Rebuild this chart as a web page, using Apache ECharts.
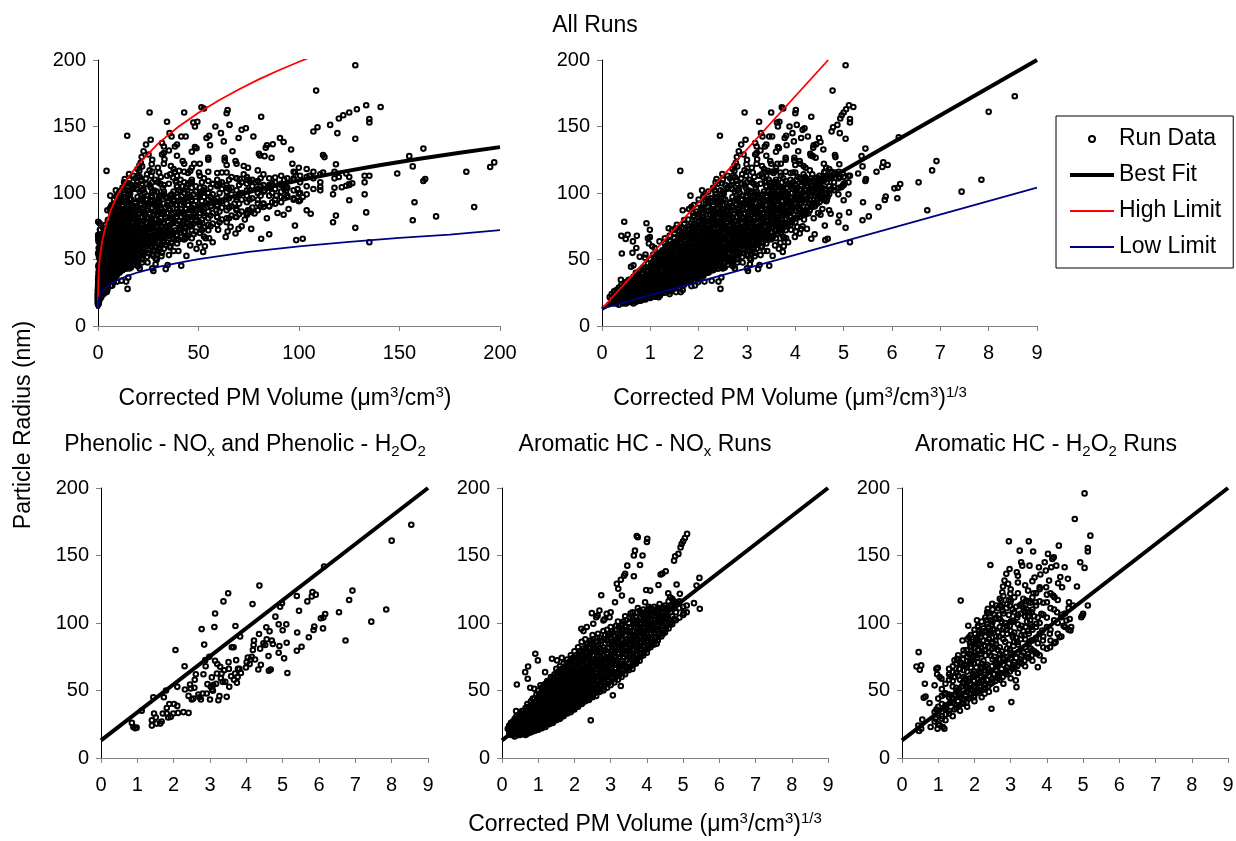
<!DOCTYPE html>
<html><head><meta charset="utf-8">
<script src="https://cdn.jsdelivr.net/npm/echarts@6/dist/echarts.min.js"></script>
<style>html,body{margin:0;padding:0;background:#fff}#c{width:1236px;height:841px}</style>
</head><body><div id="c"></div>
<script>
// ---------- DATA (x = cube root of corrected PM volume, y = particle radius nm) ----------
const phenolicRuns = [[0.85,26],[0.89,23],[0.94,22],[0.98,22.5],[1.12,35],[1.40,24],[1.40,28],[1.46,33],[1.51,30],[1.53,25.5],[1.63,25.5],[1.67,27],[1.70,33],[1.44,45],[1.73,45],[1.79,50],[1.81,37],[1.81,33],[1.85,30],[1.88,40],[1.92,30.5],[1.99,33],[2.01,40],[2.05,80],[2.10,38.6],[2.10,52.7],[2.12,33.4],[2.27,34],[2.30,68],[2.31,50.7],[2.41,33.4],[2.41,46],[2.45,54.5],[2.47,51.5],[2.50,43.3],[2.54,44],[2.57,52],[2.58,58],[2.61,62],[2.68,47],[2.71,45],[2.75,43.3],[2.77,95.5],[2.80,47.8],[2.82,62],[2.84,84],[2.87,72.5],[2.88,68],[2.91,47.8],[2.93,54.7],[2.98,75],[3.00,43.3],[3.02,52.7],[3.05,59.7],[3.06,50.7],[3.08,49.8],[3.09,54],[3.12,97],[3.14,107],[3.14,72],[3.17,55],[3.19,62.6],[3.20,69.6],[3.23,42.8],[3.26,45.8],[3.28,67.6],[3.30,59],[3.32,62.6],[3.35,56.4],[3.37,116],[3.39,65],[3.42,56.4],[3.46,45.3],[3.50,122],[3.51,71],[3.52,66],[3.53,52.7],[3.58,60.6],[3.60,82],[3.65,82],[3.66,58],[3.69,62.6],[3.70,97.8],[3.72,72.5],[3.74,55.7],[3.76,60],[3.77,66],[3.81,66],[3.83,90],[3.85,63],[3.99,67],[4.01,71],[4.04,74.5],[4.09,69.6],[4.12,73],[4.15,75],[4.17,114],[4.18,80],[4.20,83.7],[4.21,87],[4.24,73],[4.33,65.6],[4.35,91.8],[4.36,127.7],[4.38,81],[4.40,69],[4.47,85],[4.52,83.7],[4.55,96.8],[4.56,88],[4.61,75.5],[4.62,64.6],[4.64,93.8],[4.67,65.6],[4.70,87],[4.73,84.4],[4.80,104.7],[4.89,99],[4.89,78],[4.91,83],[4.93,112],[4.98,114.6],[5.00,94.6],[5.04,73.8],[5.10,99],[5.11,85.4],[5.13,63],[5.39,79.5],[5.39,120],[5.40,93],[5.45,109],[5.52,82.4],[5.68,116],[5.72,89.4],[5.80,119.6],[5.82,123],[5.85,94.8],[5.87,97.3],[5.91,121],[6.05,103.5],[6.11,96],[6.12,104],[6.17,106.7],[6.14,141.8],[6.55,108],[6.73,87],[6.83,117],[6.92,124],[7.44,101],[7.85,110],[8.00,161],[8.54,172.8]];

const aromNOxScattered = [[0.16,21.7],[0.37,26.6],[0.39,34.8],[0.41,54.5],[0.55,34.8],[0.64,63.6],[0.72,67.8],[0.71,58.7],[0.78,52],[0.89,51.3],[0.92,77.2],[0.99,72.3],[1.06,53.8],[1.19,63.6],[1.38,73.5],[1.52,72.3],[1.65,74.2],[1.79,69.8],[1.97,64.9],[2.19,95.7],[2.25,94],[2.34,97],[2.48,107.3],[2.52,99.4],[2.60,104.3],[2.64,105.5],[2.69,109.2],[2.74,120.6],[2.80,101.8],[2.83,102.8],[2.89,106.8],[2.97,104.3],[3.00,108],[3.06,46.4],[3.12,115.4],[3.17,129],[3.21,125.3],[3.28,132],[3.31,120.3],[3.37,135],[3.40,136.4],[3.46,142.5],[3.58,116.6],[3.64,134.6],[3.64,150],[3.67,153.6],[3.72,164.5],[3.75,163.5],[3.81,143],[3.88,150],[3.95,115.4],[4.00,160],[4.01,162.3],[3.98,124.5],[4.09,124],[4.13,110.5],[4.32,128.2],[4.38,135.9],[4.43,136.6],[4.52,138.3],[4.59,122],[4.64,119],[4.75,146.2],[4.78,149.4],[4.82,128.5],[4.87,151.2],[4.93,156],[4.96,158.5],[5.00,160.5],[5.05,163],[5.11,166],[5.02,107.3],[5.30,114.7],[5.37,127.7],[5.45,133.4],[5.46,110.5],[4.82,115.4],[4.91,121.6],[4.45,111.7],[4.36,101.8],[4.27,84.6],[4.45,92],[4.64,99.4],[4.54,104.3],[2.45,27.9],[3.28,53.3],[2.80,50.6],[2.62,50.6]];

// dense core of the Aromatic HC - NOx runs: [x, [radii read along that x]]
const aromNOxCore = [
[0.20,[18,21,24]],[0.25,[17,20,23,26]],[0.30,[17,20,23,27]],[0.35,[16,19,22,25,29]],[0.40,[18,21,24,28,31]],[0.45,[17,19,22,26,30]],
[0.50,[17,20,23,26,30,33]],[0.55,[18,22,25,28,32]],[0.60,[18,21,24,27,31,35]],[0.65,[17,20,23,26,29,33,37]],[0.70,[18,21,24,28,32,36,40]],
[0.75,[19,23,26,30,34,38]],[0.80,[19,22,25,29,33,37,42]],[0.85,[20,24,27,31,35,40,44]],[0.90,[20,23,26,30,34,38,44]],[0.95,[21,25,29,33,37,42,47]],
[1.00,[21,24,28,32,36,40,45,50]],[1.05,[22,26,30,34,38,43,48]],[1.10,[22,25,29,33,37,42,47,52]],[1.15,[24,27,31,35,40,45,50,54]],
[1.20,[23,27,31,35,39,44,49,55]],[1.25,[25,29,33,37,42,47,52,57]],[1.30,[25,29,33,37,41,46,51,57]],[1.35,[27,31,35,39,44,49,54,60]],
[1.40,[26,30,34,38,43,48,53,59]],[1.45,[28,32,36,41,46,51,56,62]],[1.50,[28,32,36,40,45,50,55,61,66]],[1.55,[30,34,38,43,48,53,58,64]],
[1.60,[29,33,37,42,47,52,57,63,68]],[1.65,[31,35,40,45,50,55,60,66]],[1.70,[31,35,39,44,49,54,59,65,70]],[1.75,[33,37,42,47,52,57,62,68]],
[1.80,[33,37,41,46,51,56,61,67,73]],[1.85,[35,39,44,49,54,59,65,71]],[1.90,[34,38,43,48,53,58,63,69,76]],[1.95,[36,41,46,51,56,61,67,74]],
[2.00,[36,40,45,50,55,60,65,71,79]],[2.05,[38,43,48,53,58,63,69,76]],[2.10,[38,42,47,52,57,62,67,73,82]],[2.15,[40,45,50,55,60,66,72,79]],
[2.20,[40,44,49,54,59,64,69,76,86]],[2.25,[42,47,52,57,62,68,74,81]],[2.30,[42,46,51,56,61,66,71,78,88]],[2.35,[44,49,54,59,64,70,76,84]],
[2.40,[43,48,53,58,63,68,74,81]],[2.45,[46,51,56,61,66,72,79,87]],[2.50,[45,50,55,60,65,70,76,84,91]],
[2.55,[48,55,59,68,73,82]],[2.60,[46,52,60,63,71,78,86]],[2.65,[51,57,61,69,76,84,92]],[2.70,[49,54,62,67,71,81,89]],[2.75,[53,58,65,70,79,87]],
[2.80,[50,56,64,68,76,82,94]],[2.85,[55,61,66,73,80,91]],[2.90,[52,60,64,72,77,87,95]],[2.95,[57,63,68,75,85,92]],[3.00,[54,62,66,74,79,89,97]],
[3.05,[59,64,71,80,86,94]],[3.10,[56,63,70,75,84,90]],[3.15,[61,66,75,81,88,98]],[3.20,[58,64,72,77,86,92,101]],[3.25,[63,70,75,85,91]],
[3.30,[60,68,72,81,87,96]],[3.35,[65,70,79,85,95,101]],[3.40,[62,68,77,82,91,97,105]],[3.45,[67,73,82,88,95]],[3.50,[65,70,79,84,93,100]],
[3.55,[68,77,82,91,97,107]],[3.60,[66,75,80,89,94,104,108]],[3.65,[71,80,85,94,101]],[3.70,[70,76,85,90,99,104]],[3.75,[74,83,88,97,102,111]],
[3.80,[72,81,86,95,100,109]],[3.85,[77,85,93,99,107]],[3.90,[76,82,91,96,105,110]],[3.95,[80,89,94,103,108]],[4.00,[78,87,92,101,106]],
[4.05,[83,90,99,104,112]],[4.10,[82,88,97,102,111]],[4.15,[86,95,100,108]],[4.20,[84,93,98,107,112]],[4.25,[89,96,105,110]],
[4.30,[87,95,103,109]],[4.35,[92,101,106,114]],[4.40,[90,98,104,111]],[4.45,[95,103,108]],[4.50,[93,101,106,113]],[4.55,[98,104,111]],
[4.60,[96,102,110,116]],[4.65,[100,108,113]],[4.70,[99,105,112,118]],[4.75,[103,111,116]],[4.80,[102,108,114]],[4.90,[104,111,116]],
[5.00,[106,112]],[5.10,[108,113]],
[0.325,[18,21,24,27]],[0.425,[19,23,26,29]],[0.525,[19,22,25,28,31]],[0.625,[19,22,26,29,33]],[0.725,[20,23,26,30,34,38]],
[0.825,[21,24,27,31,35,39]],[0.925,[22,25,28,32,36,41]],[1.025,[23,26,30,34,38,43,47]],[1.125,[24,27,31,35,39,44,49]],
[1.225,[25,29,33,37,41,46,51,53]],[1.325,[27,31,35,39,43,48,53,56]],[1.425,[28,32,36,40,45,50,55,58]],[1.525,[30,34,38,42,47,52,57,63]],
[1.625,[31,35,39,44,49,54,59,65]],[1.725,[33,37,41,46,51,56,61,67]],[1.825,[35,39,43,48,53,58,63,69]],[1.925,[36,40,45,50,55,60,66,72]],
[2.025,[38,42,47,52,57,62,68,74]],[2.125,[40,44,49,54,59,64,70,77]],[2.225,[41,46,51,56,61,66,72,79]],[2.325,[43,48,53,58,63,68,74,82]],
[2.425,[45,50,55,60,65,70,77,85]],[2.525,[47,52,57,62,67,73,80,88]],[2.625,[49,55,60,66,73,80,89]],[2.725,[51,57,63,69,75,84]],
[2.825,[53,59,66,72,79,88]],[2.925,[55,61,67,73,81,90]],[3.025,[57,63,70,77,84,92]],[3.125,[59,66,72,79,86,95]],[3.225,[61,68,74,82,89,97]],
[3.325,[63,69,77,84,92,99]],[3.425,[65,72,79,86,94,102]],[3.525,[67,74,81,88,96,104]],[3.625,[69,77,84,91,99]],[3.725,[72,80,87,94,101,108]],
[3.825,[75,83,90,97,104]],[3.925,[78,86,93,100,107]],[4.025,[81,89,96,103,110]],[4.125,[84,92,99,106]],[4.225,[87,95,102,109]],
[4.325,[90,98,105,111]],[4.425,[93,100,107]],[4.525,[96,103,110]]];

const aromH2O2Scattered = [[0.46,78.4],[0.40,67.8],[0.49,65.4],[0.53,68.6],[0.63,55],[0.60,44.6],[0.65,45.6],[0.76,40.7],[0.47,20],[0.53,21.7],[0.56,28.4],[0.45,24],[0.79,23],[0.90,53.8],[0.95,66],[0.99,66.8],[0.97,62],[1.04,60],[1.09,58.7],[0.98,21.7],[0.95,35.8],[0.93,29],[1.04,24.2],[1.13,23],[1.17,21.7],[1.21,32.3],[1.22,37.2],[1.17,47],[1.32,40.7],[1.36,46.4],[1.30,66],[1.34,60.4],[1.41,63.6],[1.45,72.3],[1.52,73.5],[1.55,76],[1.62,116.6],[1.67,87],[1.70,79.7],[1.73,68.6],[1.76,58],[1.79,52.5],[1.83,98],[1.85,89.5],[1.89,82],[1.91,77.2],[1.94,72.3],[1.96,62.4],[1.99,45],[2.01,92],[2.05,87],[2.07,102],[2.10,98],[2.14,94.5],[2.12,79.7],[2.19,77],[2.22,67.3],[2.25,57.5],[2.28,47.6],[2.33,102],[2.35,108],[2.37,110.5],[2.40,92.5],[2.44,143],[2.47,36.5],[2.49,114.2],[2.51,95.7],[2.56,82],[2.60,72.3],[2.65,62.4],[2.68,103],[2.71,113],[2.74,116.6],[2.77,122.8],[2.79,127],[2.83,131.4],[2.88,136.4],[2.93,129],[2.95,160.5],[2.97,140],[2.99,121.6],[3.02,41.4],[3.04,101.8],[3.06,89.5],[3.08,77.2],[3.11,67.3],[3.14,57.5],[3.16,52.5],[3.17,137.6],[3.20,135],[3.25,153.6],[3.29,145],[3.32,142.5],[3.34,111.7],[3.39,108],[3.41,97],[3.43,116.6],[3.48,124],[3.50,160.5],[3.52,142.5],[3.54,101.8],[3.57,87],[3.60,79.7],[3.62,153],[3.63,122],[3.66,133.7],[3.69,115.4],[3.71,99.4],[3.73,77.2],[3.75,67.3],[3.78,141.3],[3.80,126.5],[3.82,135.9],[3.85,106.8],[3.87,94.5],[3.89,87],[3.91,72.3],[3.94,145],[3.97,138.8],[3.98,126.5],[4.00,115.4],[4.03,151.2],[4.06,131.4],[4.08,92],[4.09,82],[4.12,141.3],[4.15,147.5],[4.17,120.3],[4.19,148.7],[4.21,119],[4.24,85.8],[4.26,142.5],[4.28,108],[4.31,129.5],[4.33,157.3],[4.35,89.5],[4.37,134],[4.40,104.3],[4.42,126.5],[4.46,98],[4.49,141.3],[4.54,101.8],[4.58,132.7],[4.61,115.4],[4.63,103],[4.65,94.5],[4.67,97],[4.72,113],[4.77,177],[4.83,127],[4.92,145],[4.95,104.3],[4.98,105.5],[5.00,106.8],[5.04,196],[5.04,140.8],[5.13,153],[5.13,155.6],[5.13,113],[5.20,164.7]];

const aromH2O2Core = [
[0.90,[27,34]],[1.00,[25,33,38,44]],[1.10,[29,31,40,46,51]],[1.20,[28,36,39,48,55]],[1.30,[33,35,45,47,58,62]],[1.40,[31,41,44,53,57,68]],
[1.50,[37,39,49,52,63,70]],[1.55,[42,50,61]],[1.60,[35,45,48,58,66,71]],[1.65,[40,53,70]],[1.70,[41,44,55,60,65,77]],[1.75,[46,59,69]],
[1.80,[38,49,52,64,72,75,88]],[1.85,[44,57,77]],[1.90,[45,51,55,67,70,83,91]],[1.95,[50,60,74,86]],[2.00,[42,53,61,64,78,82,95]],
[2.05,[48,67,76,89]],[2.10,[49,55,58,71,80,85,97]],[2.15,[53,63,84,92]],[2.20,[45,57,66,70,79,93,101]],[2.25,[51,72,87,96]],
[2.30,[52,55,68,76,83,90,104]],[2.35,[58,69,86,99]],[2.40,[49,61,64,78,88,94,107]],[2.45,[55,76,92,102]],[2.50,[56,59,73,81,86,101,110]],
[2.55,[62,75,95,106]],[2.60,[51,65,70,84,90,104,113]],[2.65,[59,80,93,111]],[2.70,[58,63,77,82,97,103,118]],[2.75,[66,79,101,112]],
[2.80,[55,69,74,88,96,107,120]],[2.85,[63,86,100]],[2.90,[62,67,81,92,98,114]],[2.95,[70,84,106,117]],[3.00,[59,74,78,94,101,116,125]],
[3.05,[66,91,110]],[3.10,[67,71,86,93,108,119]],[3.15,[74,89,112]],[3.20,[63,78,84,99,106,122,130]],[3.25,[71,96,113]],
[3.30,[70,76,91,98,114]],[3.35,[78,94,118]],[3.40,[68,82,88,105,113,128]],[3.45,[75,101,110]],[3.50,[74,85,92,108,116]],
[3.55,[81,99,115]],[3.60,[72,87,95,110,119,131]],[3.65,[79,105]],[3.70,[78,89,97,113,122]],[3.75,[85,104]],[3.80,[76,92,100,116,125]],
[3.90,[82,90,106,115]],[4.00,[81,97,104,121]],[4.10,[87,95,111,122]],[4.20,[85,102,110]],[4.30,[92,100,117]],[4.40,[90,106]],
[4.50,[97,107]],[4.60,[95,111]],
[1.45,[36,47,60]],[1.58,[39,51,66]],[1.68,[43,56,73]],[1.78,[41,54,67,80]],[1.88,[47,59,72,85]],[1.98,[46,57,70,84]],[2.08,[51,62,74,88]],
[2.18,[50,61,77,90]],[2.28,[54,65,80,94]],[2.38,[53,66,82,97]],[2.48,[58,68,85,99]],[2.58,[57,71,87,103]],[2.68,[61,73,90,106]],
[2.78,[60,76,92,109]],[2.88,[65,78,95,111]],[2.98,[64,80,98,113]],[3.08,[69,83,101]],[3.18,[68,86,104]],[3.28,[73,88,107]],
[3.38,[72,91,109]],[3.48,[77,94,105]],[3.58,[76,97,108]]];

// fitted lines on the cube-root axis
const bestFitLine = [[0,13],[9,200]];
const highLimitLine = [[0,13],[4.68,200]];
const lowLimitLine = [[0,13],[9,104]];
// same fits read on the volume axis (top-left panel)
const bestFitVolume = [[0,13],[0.1,22.6],[0.5,29.5],[1,33.8],[2,39.2],[4,46],[6,50.8],[8,54.6],[10,57.8],[15,64.2],[20,69.4],[30,77.6],[40,84.1],[50,89.6],[60,94.4],[70,98.6],[80,102.5],[100,109.5],[120,115.5],[140,120.9],[160,125.8],[180,130.3],[200,134.5]];
const highLimitVolume = [[0,13],[0.1,31.6],[0.5,44.8],[1,53],[2,63.4],[4,76.5],[6,85.7],[8,93],[10,99.2],[15,111.6],[20,121.6],[30,137.3],[40,149.8],[50,160.4],[60,169.6],[70,177.8],[80,185.4],[90,192.3],[100,198.7],[104,201]];
const lowLimitVolume = [[0,13],[0.1,17.7],[0.5,21],[1,23.1],[2,25.7],[4,29],[6,31.4],[8,33.2],[10,34.8],[15,37.9],[20,40.4],[30,44.4],[40,47.5],[50,50.2],[75,55.8],[100,59.9],[125,63.2],[150,66.2],[175,68.7],[200,72.1]];

const legendNames = ['Run Data','Best Fit','High Limit','Low Limit'];

// ---------- BUILD ----------
const FONT = "'Liberation Sans', Arial, Helvetica, sans-serif";
const expand = cols => cols.flatMap(([x, rs]) => rs.map(r => [x, r]));
const phenolic = phenolicRuns;
const aromNOx = aromNOxScattered.concat(expand(aromNOxCore));
const aromH2O2 = aromH2O2Scattered.concat(expand(aromH2O2Core));
const allRuns = phenolic.concat(aromNOx, aromH2O2);
const allRunsVolume = allRuns.map(p => [p[0] * p[0] * p[0], p[1]]);

const grids = [
  {left:98, top:60, width:402, height:266},
  {left:602, top:60, width:435, height:266},
  {left:101, top:488, width:327, height:270},
  {left:502, top:488, width:326, height:270},
  {left:902, top:488, width:326, height:270}
].map(g => Object.assign({containLabel:false, outerBoundsMode:'none'}, g));

function xAx(gi, max, interval){
  return {type:'value', gridIndex:gi, min:0, max:max, interval:interval,
    axisLine:{show:true, onZero:false, lineStyle:{color:'#808080', width:1}},
    axisTick:{show:true, inside:false, length:5, lineStyle:{color:'#808080'}},
    axisLabel:{color:'#000', fontSize:20, fontFamily:FONT, margin:17},
    splitLine:{show:false}};
}
function yAx(gi){
  return {type:'value', gridIndex:gi, min:0, max:200, interval:50,
    axisLine:{show:true, onZero:false, lineStyle:{color:'#000', width:1}},
    axisTick:{show:true, inside:false, length:5, lineStyle:{color:'#808080'}},
    axisLabel:{color:'#000', fontSize:20, fontFamily:FONT, margin:12},
    splitLine:{show:false}};
}
const xAxes = [xAx(0,200,50), xAx(1,9,1), xAx(2,9,1), xAx(3,9,1), xAx(4,9,1)];
const yAxes = [yAx(0), yAx(1), yAx(2), yAx(3), yAx(4)];

function scat(i, data){
  return {type:'scatter', name:legendNames[0], xAxisIndex:i, yAxisIndex:i, data:data,
    symbol:'circle', symbolSize:4.6, silent:true,
    itemStyle:{color:'rgba(255,255,255,0)', borderColor:'#000', borderWidth:2, opacity:1}};
}
function line(i, name, data, color, width){
  return {type:'line', name:name, xAxisIndex:i, yAxisIndex:i, data:data, symbol:'none',
    smooth:false, silent:true, clip:true,
    lineStyle:{color:color, width:width}, itemStyle:{color:color}};
}
const series = [
  scat(0, allRunsVolume), scat(1, allRuns), scat(2, phenolic), scat(3, aromNOx), scat(4, aromH2O2),
  line(0, legendNames[1], bestFitVolume, '#000', 4),
  line(0, legendNames[2], highLimitVolume, '#ff0000', 1.8),
  line(0, legendNames[3], lowLimitVolume, '#000080', 1.8),
  line(1, legendNames[1], bestFitLine, '#000', 4),
  line(1, legendNames[2], highLimitLine, '#ff0000', 1.8),
  line(1, legendNames[3], lowLimitLine, '#000080', 1.8),
  line(2, legendNames[1], bestFitLine, '#000', 4),
  line(3, legendNames[1], bestFitLine, '#000', 4),
  line(4, legendNames[1], bestFitLine, '#000', 4)
];

const rich = {
  sup:{fontSize:15, lineHeight:15, verticalAlign:'top', fontFamily:FONT, color:'#000'},
  sub:{fontSize:15, lineHeight:15, verticalAlign:'bottom', fontFamily:FONT, color:'#000'}
};
const tStyle = {fontSize:23, lineHeight:28, fontFamily:FONT, color:'#000', fontWeight:'normal', rich:rich};
function ttl(text, cx, top){ return {text:text, left:cx, top:top, textAlign:'center', padding:0, itemGap:0, textStyle:tStyle}; }

const option = {
  animation:false,
  backgroundColor:'#fff',
  grid:grids, xAxis:xAxes, yAxis:yAxes, series:series,
  title:[
    ttl('All Runs', 595, 12),
    ttl('Corrected PM Volume (μm{sup|3}/cm{sup|3})', 285, 385),
    ttl('Corrected PM Volume (μm{sup|3}/cm{sup|3}){sup|1/3}', 790, 385),
    ttl('Phenolic - NO{sub|x} and Phenolic - H{sub|2}O{sub|2}', 245, 431),
    ttl('Aromatic HC - NO{sub|x} Runs', 645, 431),
    ttl('Aromatic HC - H{sub|2}O{sub|2} Runs', 1046, 431),
    ttl('Corrected PM Volume (μm{sup|3}/cm{sup|3}){sup|1/3}', 645, 811)
  ],
  legend:{
    left:1056, top:116, orient:'vertical', selectedMode:false,
    data:[
      {name:legendNames[0]},
      {name:legendNames[1], itemStyle:{opacity:0}, lineStyle:{width:4, color:'#000'}},
      {name:legendNames[2], itemStyle:{opacity:0}, lineStyle:{width:1.8, color:'#ff0000'}},
      {name:legendNames[3], itemStyle:{opacity:0}, lineStyle:{width:1.8, color:'#000080'}}
    ],
    itemWidth:44, itemHeight:6, itemGap:10,
    padding:[10,12,8,12],
    borderColor:'#000', borderWidth:1, backgroundColor:'#fff',
    textStyle:{fontSize:23, lineHeight:26, fontFamily:FONT, color:'#000'}
  },
  graphic:[{type:'text', x:24, y:425, rotation:Math.PI/2,
    style:{text:'Particle Radius (nm)', fontSize:23, fontFamily:FONT, fill:'#000', align:'center', verticalAlign:'middle'}}]
};
const chart = echarts.init(document.getElementById('c'), null, {renderer:'canvas'});
chart.setOption(option);
</script>
</body></html>
